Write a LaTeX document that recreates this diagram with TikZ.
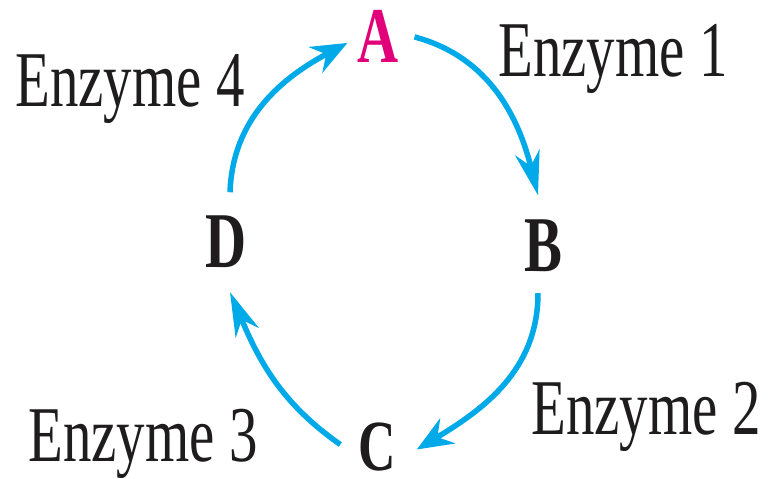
\documentclass[tikz,border=0pt]{standalone}
\usepackage{fontspec}
\setmainfont{Liberation Serif}
\usetikzlibrary{arrows.meta}
\definecolor{arrowcyan}{RGB}{0,170,232}
\definecolor{amagenta}{RGB}{226,0,122}
\definecolor{inkblack}{RGB}{30,28,28}
\tikzset{
  letter/.style={anchor=base, inner sep=0pt, outer sep=0pt, text=inkblack,
    font=\fontsize{79}{80}\selectfont\bfseries},
  enzlabel/.style={anchor=base, inner sep=0pt, outer sep=0pt, text=inkblack,
    font=\fontsize{79}{80}\selectfont},
  cycv/.style={draw=arrowcyan, line width=5.5pt,
    -{Stealth[length=44pt, width=25pt, inset=14pt]}},
  cych/.style={draw=arrowcyan, line width=5.5pt,
    -{Stealth[length=36pt, width=29pt, inset=12pt]}},
}
\newcommand{\squeeze}[1]{\scalebox{0.72}[1]{#1}}
\begin{document}
\begin{tikzpicture}[x=1pt,y=1pt]
\useasboundingbox (0,0) rectangle (769,479);
\node[letter, text=amagenta] (A) at (378,416) {\squeeze{A}};
\node[letter] (B) at (543,207) {\squeeze{B}};
\node[letter, font=\fontsize{72}{74}\selectfont\bfseries] (C) at (377,8) {\squeeze{C}};
\node[letter] (D) at (226,211) {\squeeze{D}};
\node[enzlabel] (e1) at (613,402) {\squeeze{Enzyme 1}};
\node[enzlabel] (e2) at (646,44) {\squeeze{Enzyme 2}};
\node[enzlabel] (e3) at (143,17) {\squeeze{Enzyme 3}};
\node[enzlabel] (e4) at (130,372) {\squeeze{Enzyme 4}};
\draw[cycv] ([xshift=16pt]A.east) to[out=-15,in=104] ([xshift=-5pt,yshift=25pt]B.north);
\draw[cych] ([xshift=-5pt,yshift=-21pt]B.south) to[out=-90,in=31] ([xshift=21pt,yshift=-2pt]C.east);
\draw[cycv] ([xshift=-18pt,yshift=3pt]C.west) to[out=145,in=-67] ([xshift=4pt,yshift=-24pt]D.south);
\draw[cych] ([xshift=4pt,yshift=24pt]D.north) to[out=88,in=208] ([xshift=-10pt,yshift=-6pt]A.west);
\end{tikzpicture}
\end{document}
